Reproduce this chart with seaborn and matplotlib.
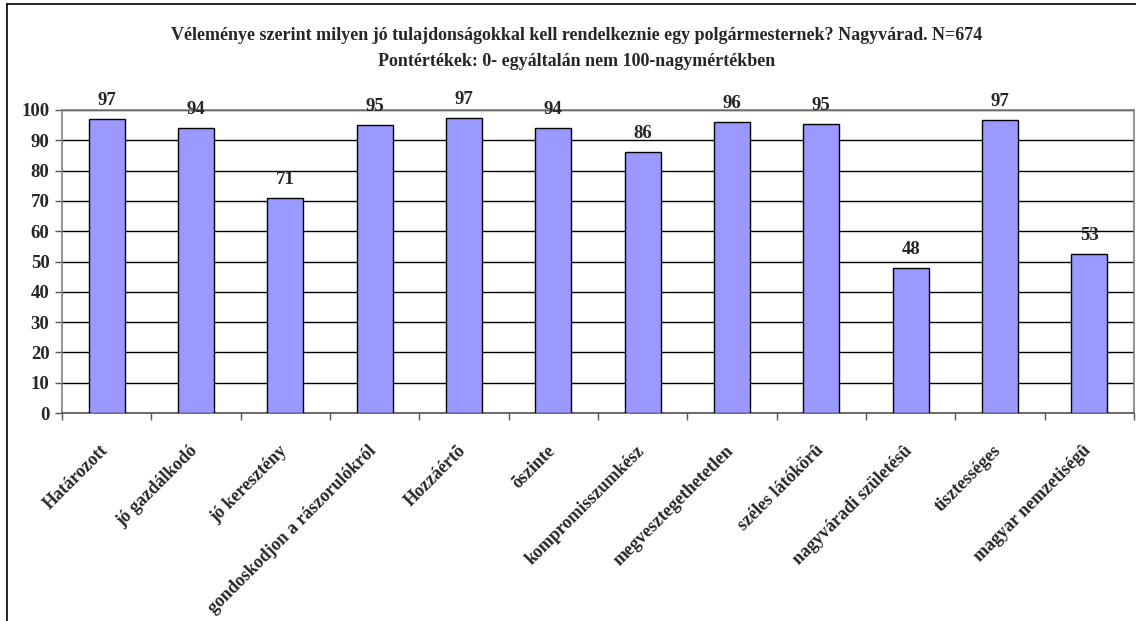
import seaborn as sns
import matplotlib.pyplot as plt
import numpy as np
from matplotlib.lines import Line2D

# data
categories = ["Határozott", "jó gazdálkodó", "jó keresztény",
              "gondoskodjon a rászorulókról", "Hozzáértõ", "õszinte",
              "kompromisszumkész", "megvesztegethetetlen", "széles látókörû",
              "nagyváradi születésû", "tisztességes", "magyar nemzetiségû"]
values = [97.0, 94.0, 71.0, 95.2, 97.4, 94.0, 86.3, 96.0, 95.4, 48.0, 96.8, 52.6]
value_labels = ["97", "94", "71", "95", "97", "94", "86", "96", "95", "48", "97", "53"]
yticks = list(range(0, 101, 10))

title1 = "Véleménye szerint milyen jó tulajdonságokkal kell rendelkeznie egy polgármesternek? Nagyvárad. N=674"
title2 = "Pontértékek: 0- egyáltalán nem 100-nagymértékben"

sns.set_style("white")
plt.rcParams['font.family'] = ['Liberation Serif', 'DejaVu Serif']
plt.rcParams['font.weight'] = 'bold'

fig = plt.figure(figsize=(11.36, 6.21), dpi=100)
ax = fig.add_axes([62 / 1136, 1 - 413 / 621, (1134 - 62) / 1136, (413 - 110) / 621])

sns.barplot(x=categories, y=values, ax=ax, color="#9999FF", saturation=1,
            width=0.4, edgecolor="black", linewidth=1.0, zorder=3)

ax.set_ylim(0, 100)
ax.set_xlim(-0.5, len(categories) - 0.5)
ax.set_yticks(yticks)
ax.set_yticklabels([str(t) for t in yticks], fontsize=13.5, fontweight='bold')
ax.yaxis.grid(True, color="black", linewidth=1.0, zorder=0)
ax.set_axisbelow(True)
ax.tick_params(axis='y', direction='out', length=5, width=1, color="#555555", pad=4, left=True)

# category labels rotated, ticks between categories
ax.set_xticks(range(len(categories)))
ax.set_xticklabels([])
ax.tick_params(axis='x', which='major', length=0)
ax.set_xticks(np.arange(-0.5, len(categories), 1.0), minor=True)
ax.tick_params(axis='x', which='minor', direction='out', length=5, width=1, color="#555555", bottom=True)
for i, lab in enumerate(categories):
    ax.annotate(lab, xy=(i, 0), xycoords='data', xytext=(-5, -21), textcoords='offset points',
                rotation=45, ha='right', va='top', rotation_mode='anchor',
                fontsize=13, fontweight='bold', annotation_clip=False)

for i, (v, t) in enumerate(zip(values, value_labels)):
    ax.annotate(t, xy=(i, v), xytext=(0, 7), textcoords='offset points',
                ha='center', va='bottom', fontsize=13.5, fontweight='bold')

ax.set_xlabel("")
ax.set_ylabel("")
for side in ["top", "right", "left", "bottom"]:
    ax.spines[side].set_visible(True)
    ax.spines[side].set_color("#808080")
    ax.spines[side].set_linewidth(1.2)
ax.spines["bottom"].set_color("#555555")

fig.text(0.508, 1 - 36 / 621, title1, ha='center', va='center', fontsize=13, fontweight='bold')
fig.text(0.508, 1 - 62 / 621, title2, ha='center', va='center', fontsize=13, fontweight='bold')

# outer chart frame (left and top edges visible)
fig.add_artist(Line2D([7 / 1136, 7 / 1136], [0, 1 - 4 / 621], transform=fig.transFigure, color="black", linewidth=1.2))
fig.add_artist(Line2D([7 / 1136, 1], [1 - 4 / 621, 1 - 4 / 621], transform=fig.transFigure, color="black", linewidth=1.2))

fig.savefig("out.png", dpi=100)
